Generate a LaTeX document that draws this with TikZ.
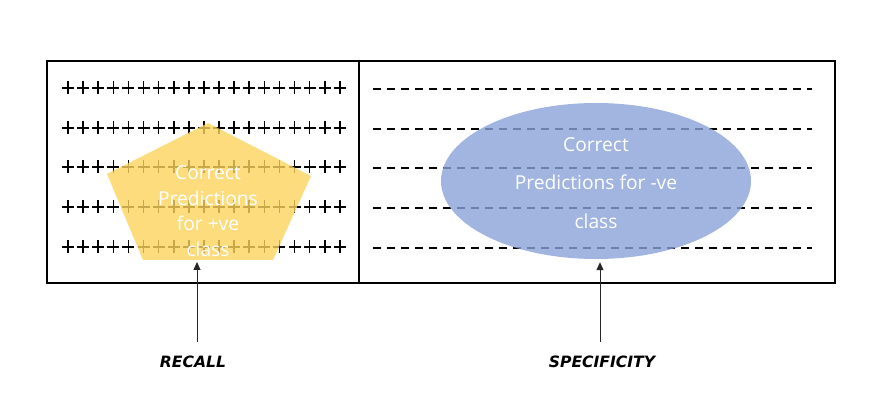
\documentclass[tikz,border=0pt]{standalone}
\usepackage{fontspec}
\setmainfont{Open Sans}
\newfontfamily\labelfont{DejaVu Sans}
\usetikzlibrary{arrows.meta, positioning, shapes.geometric}
\definecolor{posyellow}{RGB}{251,211,92}
\definecolor{negblue}{RGB}{137,162,216}

\begin{document}
\begin{tikzpicture}[
x=1pt, y=-1pt,
frame/.style={draw=black, line width=1.8pt},
plusmark/.style={line width=1.6pt},
dashrow/.style={line width=1.4pt, dash pattern=on 8pt off 6pt},
shapetext/.style={text=white, text opacity=1, align=center, inner sep=0pt},
arr/.style={-{Triangle[length=8pt, width=7pt]}, line width=1pt, draw=black!85},
lbl/.style={font=\labelfont\fontsize{15.6}{18}\selectfont\bfseries\itshape}
]
\useasboundingbox (0,0) rectangle (886,403);

% frame split in two halves
\draw[frame] (47,61) rectangle (835,283);
\draw[frame] (359,61) -- (359,283);

% rows of + on the left, dashes on the right
\foreach \y in {88,128,167,207,247}{
  \foreach \i in {0,...,18}{
    \draw[plusmark] ({68+15.1*\i-6},\y) -- ++(12,0) ({68+15.1*\i},\y-6.5) -- ++(0,13);
  }
  \draw[dashrow] (373,\y+1) -- (812,\y+1);
}

% positive class region
\fill[posyellow, fill opacity=0.8] (208,123) -- (311,176) -- (273,260) coordinate (pbr)
  -- (143,260) coordinate (pbl) -- (107,174) -- cycle;
\node[shapetext, font=\fontsize{19.2}{25.5}\selectfont] (pos) at (208,211) {Correct\\Predictions\\for +ve\\class};

% negative class region
\node[ellipse, fill=negblue, fill opacity=0.8, minimum width=310pt, minimum height=156pt, inner sep=0pt] (neg) at (596,181) {};
\node[shapetext, font=\fontsize{19.2}{38.5}\selectfont] (negtxt) at (596,183) {Correct\\Predictions for -ve\\class};

% labels
\node[lbl] (recall) at (193,362) {RECALL};
\node[lbl] (spec) at (602,362) {SPECIFICITY};
\coordinate (recfoot) at (197,342);
\coordinate (specfoot) at (600,342);

\draw[arr, shorten >=2pt] (recfoot) -- (recfoot |- pbl);
\draw[arr, shorten >=3pt] (specfoot) -- (specfoot |- neg.south);

\end{tikzpicture}
\end{document}
